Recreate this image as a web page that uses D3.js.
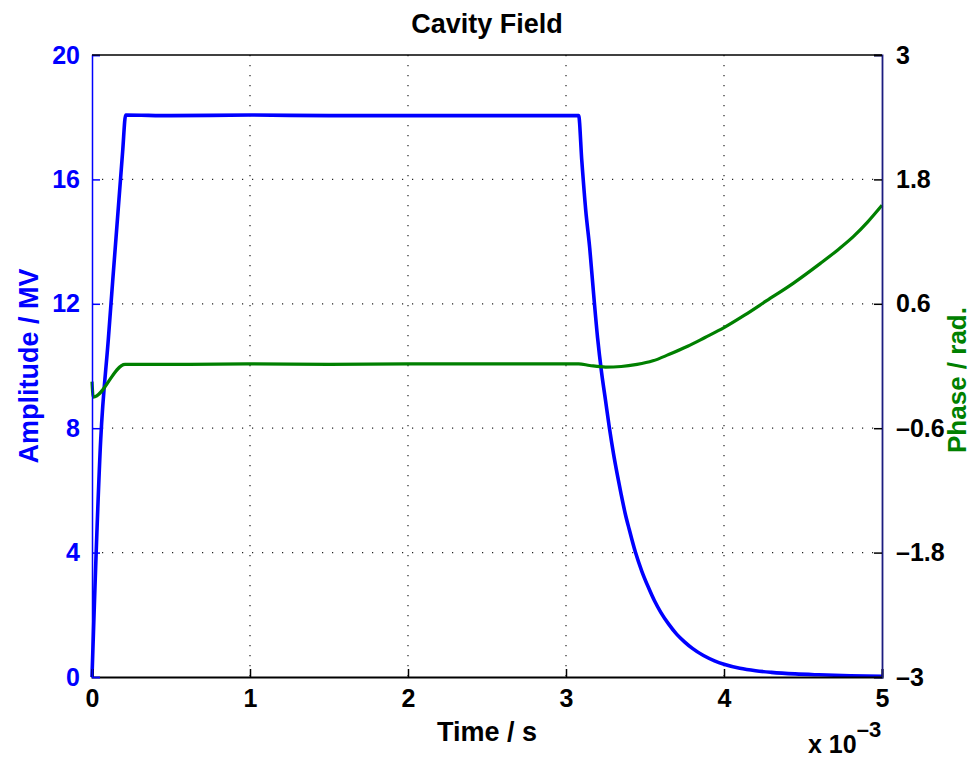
<!DOCTYPE html>
<html>
<head>
<meta charset="utf-8">
<script src="https://cdn.jsdelivr.net/npm/d3@7"></script>
<style>
  html, body { margin: 0; padding: 0; background: #fff; }
  svg { display: block; font-family: "Liberation Sans", Arial, Helvetica, sans-serif; font-weight: bold; }
</style>
</head>
<body>
<svg id="chart" width="971" height="757"></svg>
<script>
// Cavity field: amplitude (MV, left axis) and phase (rad, right axis) vs time (ms)
const ampTime = [0, 0.055, 0.103, 0.194, 0.213, 0.5, 1.0, 1.5, 2.0, 2.5, 3.0, 3.08,
  3.10, 3.125, 3.15, 3.175, 3.20, 3.225, 3.25, 3.275, 3.30, 3.325, 3.35, 3.375, 3.40,
  3.44, 3.48, 3.52, 3.56, 3.60, 3.65, 3.70, 3.75, 3.80, 3.87, 3.94, 4.00,
  4.10, 4.20, 4.30, 4.45, 4.60, 4.80, 5.00];
const amplitude = [0, 7.62, 10.84, 16.9, 18.07, 18.05, 18.07, 18.05, 18.05, 18.05, 18.05, 18.05,
  16.6, 15.0, 13.8, 12.3, 10.9, 9.8, 8.9, 8.0, 7.2, 6.5, 5.85, 5.25, 4.75,
  4.0, 3.4, 2.9, 2.45, 2.08, 1.7, 1.38, 1.13, 0.92, 0.69, 0.52, 0.41,
  0.28, 0.2, 0.15, 0.1, 0.07, 0.04, 0.02];

const phaseTime = [0, 0.008, 0.209, 0.6, 1.0, 1.5, 2.0, 2.5, 3.0, 3.08, 3.15, 3.25, 3.35,
  3.45, 3.55, 3.65, 3.77, 3.88, 4.00, 4.13, 4.27, 4.44, 4.61, 4.72, 4.82, 4.91, 5.00];
const phase = [-0.15, -0.30, 0.016, 0.015, 0.02, 0.015, 0.02, 0.02, 0.02, 0.02, 0.005, -0.01, -0.005,
  0.015, 0.05, 0.11, 0.19, 0.275, 0.37, 0.49, 0.63, 0.80, 0.99, 1.12, 1.25, 1.39, 1.55];

const timeTicks = [0, 1, 2, 3, 4, 5];
const ampTicks = [0, 4, 8, 12, 16, 20];
const phaseTicks = [-3, -1.8, -0.6, 0.6, 1.8, 3];

const margin = { left: 92, right: 882, top: 55, bottom: 677 };
const blue = "#0000ff", green = "#008000";

const svg = d3.select("#chart");
const x = d3.scaleLinear().domain([0, 5]).range([margin.left, margin.right]);
const yA = d3.scaleLinear().domain([0, 20]).range([margin.bottom, margin.top]);
const yP = d3.scaleLinear().domain([-3, 3]).range([margin.bottom, margin.top]);

const fmt = v => (v < 0 ? "\u2013" + Math.abs(v) : String(v));

// dotted grid
const grid = svg.append("g").attr("stroke", "#222").attr("stroke-width", 1.2)
  .attr("stroke-dasharray", "1.2,8.8");
timeTicks.slice(1, -1).forEach(t => {
  grid.append("line").attr("x1", x(t)).attr("x2", x(t))
    .attr("y1", margin.top).attr("y2", margin.bottom);
});
ampTicks.slice(1, -1).forEach(a => {
  grid.append("line").attr("x1", margin.left).attr("x2", margin.right)
    .attr("y1", yA(a)).attr("y2", yA(a));
});

// curves
const ampLine = d3.line().curve(d3.curveMonotoneX)
  .x((d, i) => x(ampTime[i])).y(d => yA(d));
const phaseLine = d3.line().curve(d3.curveMonotoneX)
  .x((d, i) => x(phaseTime[i])).y(d => yP(d));

svg.append("path").datum(amplitude).attr("d", ampLine)
  .attr("fill", "none").attr("stroke", blue).attr("stroke-width", 3.6)
  .attr("stroke-linejoin", "round");
svg.append("path").datum(phase).attr("d", phaseLine)
  .attr("fill", "none").attr("stroke", green).attr("stroke-width", 3.2)
  .attr("stroke-linejoin", "round");

// axes
const tickFont = sel => sel.attr("font-size", 25).attr("font-weight", "bold")
  .attr("font-family", "Liberation Sans, Arial, sans-serif");

const bottomAxis = d3.axisBottom(x).tickValues(timeTicks).tickSize(-8).tickPadding(12)
  .tickFormat(d3.format("d"));
const gx = svg.append("g").attr("transform", `translate(0,${margin.bottom})`).call(bottomAxis);
gx.select(".domain").attr("stroke", "#000").attr("stroke-width", 2);
gx.selectAll(".tick line").attr("stroke", "#000").attr("stroke-width", 1.5);
gx.selectAll(".tick text").attr("fill", "#000").call(tickFont);

const leftAxis = d3.axisLeft(yA).tickValues(ampTicks).tickSize(-8).tickPadding(12)
  .tickFormat(d3.format("d"));
const gl = svg.append("g").attr("transform", `translate(${margin.left},0)`).call(leftAxis);
gl.select(".domain").attr("stroke", blue).attr("stroke-width", 1.5);
gl.selectAll(".tick line").attr("stroke", blue).attr("stroke-width", 1.5);
gl.selectAll(".tick text").attr("fill", blue).call(tickFont);

const rightAxis = d3.axisRight(yP).tickValues(phaseTicks).tickSize(-8).tickPadding(14)
  .tickFormat(fmt);
const gr = svg.append("g").attr("transform", `translate(${margin.right},0)`).call(rightAxis);
gr.select(".domain").attr("stroke", "#1c1c80").attr("stroke-width", 1.8);
gr.selectAll(".tick line").attr("stroke", "#000").attr("stroke-width", 1.5);
gr.selectAll(".tick text").attr("fill", "#000").call(tickFont);

// top frame line
svg.append("line").attr("x1", margin.left).attr("x2", margin.right)
  .attr("y1", margin.top).attr("y2", margin.top).attr("stroke", "#000").attr("stroke-width", 1.5);

// title and labels
svg.append("text").attr("x", (margin.left + margin.right) / 2).attr("y", 33)
  .attr("text-anchor", "middle").attr("font-size", 27).attr("fill", "#000").text("Cavity Field");

svg.append("text").attr("x", (margin.left + margin.right) / 2).attr("y", 741)
  .attr("text-anchor", "middle").attr("font-size", 27).attr("fill", "#000").text("Time / s");

svg.append("text").attr("transform", `translate(38,${(margin.top + margin.bottom) / 2}) rotate(-90)`)
  .attr("text-anchor", "middle").attr("font-size", 27).attr("fill", blue).text("Amplitude / MV");

svg.append("text").attr("transform", `translate(966,380) rotate(-90)`)
  .attr("text-anchor", "middle").attr("font-size", 26).attr("fill", green).text("Phase / rad.");

// exponent of the time axis
const expo = svg.append("text").attr("x", 808).attr("y", 753).attr("font-size", 25).attr("fill", "#000");
expo.append("tspan").text("x 10");
expo.append("tspan").attr("dy", -16).attr("font-size", 22).text("\u20133");
</script>
</body>
</html>
